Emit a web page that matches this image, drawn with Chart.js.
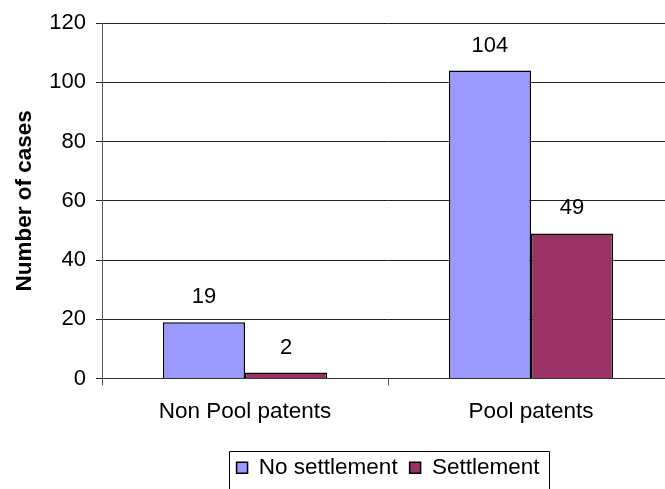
<!DOCTYPE html>
<html>
<head>
<meta charset="utf-8">
<script src="https://cdn.jsdelivr.net/npm/chart.js@4.4.0/dist/chart.umd.min.js"></script>
<style>
  html, body { margin: 0; padding: 0; background: #fff; overflow: hidden; }
  #wrap { width: 676px; height: 489px; }
</style>
</head>
<body>
<div id="wrap"><canvas id="chart"></canvas></div>
<script>
const categories = ["Non Pool patents", "Pool patents"];
const noSettlement = [19, 104];
const settlement = [2, 49];
const seriesNames = ["No settlement", "Settlement"];

const FONT = "'Liberation Sans', Arial, sans-serif";

// value labels above each bar
const valueLabels = {
  id: "valueLabels",
  afterDatasetsDraw(chart) {
    const ctx = chart.ctx;
    ctx.save();
    ctx.font = "22px " + FONT;
    ctx.fillStyle = "#000";
    ctx.textAlign = "center";
    ctx.textBaseline = "middle";
    chart.data.datasets.forEach((ds, i) => {
      chart.getDatasetMeta(i).data.forEach((bar, j) => {
        ctx.fillText(String(ds.data[j]), bar.x, bar.y - 25);
      });
    });
    ctx.restore();
  }
};

// black frame round the legend, like the original
const legendFrame = {
  id: "legendFrame",
  afterDraw(chart) {
    const lg = chart.legend;
    if (!lg || !lg.legendHitBoxes.length) return;
    const boxes = lg.legendHitBoxes;
    const first = boxes[0];
    const last = boxes[boxes.length - 1];
    const ctx = chart.ctx;
    ctx.save();
    ctx.strokeStyle = "#000";
    ctx.lineWidth = 1;
    const x0 = Math.round(first.left - 8) + 0.5;
    const x1 = Math.round(last.left + last.width + 10) + 0.5;
    const y0 = Math.round(first.top + first.height / 2 - 17) + 0.5;
    ctx.beginPath();
    ctx.moveTo(x0, 500);
    ctx.lineTo(x0, y0);
    ctx.lineTo(x1, y0);
    ctx.lineTo(x1, 500);
    ctx.stroke();
    ctx.restore();
  }
};

new Chart(document.getElementById("chart"), {
  type: "bar",
  plugins: [valueLabels, legendFrame],
  data: {
    labels: categories,
    datasets: [
      {
        label: seriesNames[0],
        data: noSettlement,
        backgroundColor: "#9999FF",
        borderColor: "#000",
        borderWidth: 1.5
      },
      {
        label: seriesNames[1],
        data: settlement,
        backgroundColor: "#993366",
        borderColor: "#000",
        borderWidth: 1.5
      }
    ]
  },
  options: {
    responsive: true,
    maintainAspectRatio: false,
    animation: false,
    layout: { padding: { top: 22, right: 2, left: 0, bottom: 0 } },
    categoryPercentage: 0.574,
    barPercentage: 1,
    plugins: {
      tooltip: { enabled: false },
      legend: {
        position: "bottom",
        fullSize: false,
        padding: { top: 10, bottom: 0 },
        labels: {
          color: "#000",
          font: { family: FONT, size: 22.5 },
          boxWidth: 11,
          boxHeight: 11,
          padding: 12
        }
      }
    },
    scales: {
      x: {
        grid: {
          offset: true,
          drawOnChartArea: false,
          drawTicks: true,
          tickLength: 7,
          color: "#555"
        },
        border: { color: "#333", width: 1 },
        ticks: {
          color: "#000",
          font: { family: FONT, size: 22.5 },
          padding: 13
        },
        afterFit(scale) { scale.height = 66; }
      },
      y: {
        min: 0,
        max: 120,
        ticks: {
          stepSize: 20,
          color: "#000",
          font: { family: FONT, size: 22 },
          padding: 10
        },
        grid: { color: "#222", tickLength: 6 },
        border: { color: "#555", width: 1 },
        title: {
          display: true,
          text: "Number of cases",
          color: "#000",
          font: { family: FONT, size: 22.5, weight: "bold" },
          padding: { top: 11, bottom: 0 }
        },
        afterFit(scale) { scale.width = 102; }
      }
    }
  }
});
</script>
</body>
</html>
